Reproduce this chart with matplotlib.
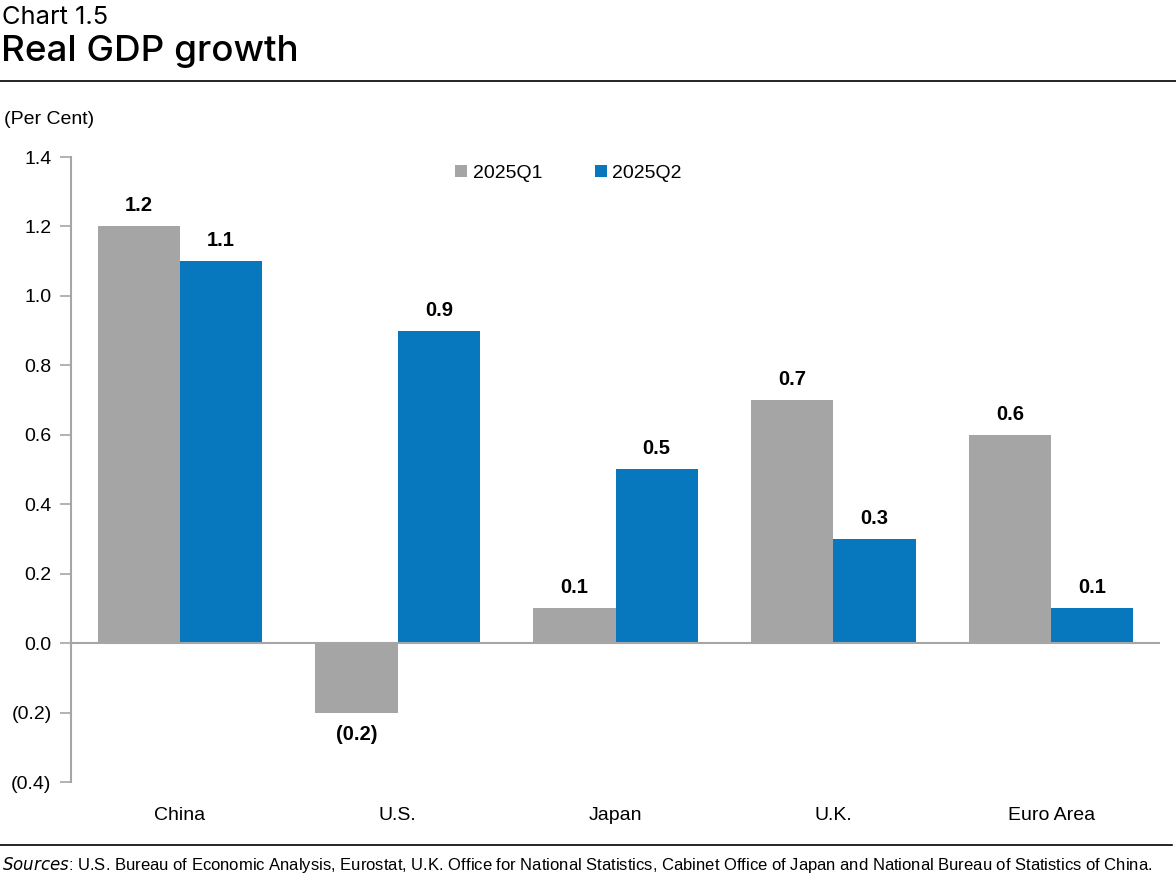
import numpy as np
import matplotlib
matplotlib.use("Agg")
import matplotlib.pyplot as plt
from matplotlib.lines import Line2D

# Datos del gráfico
categories = ["China", "U.S.", "Japan", "U.K.", "Euro Area"]
q1_values = [1.2, -0.2, 0.1, 0.7, 0.6]
q2_values = [1.1, 0.9, 0.5, 0.3, 0.1]
series_names = ["2025Q1", "2025Q2"]
y_ticks = [-0.4, -0.2, 0.0, 0.2, 0.4, 0.6, 0.8, 1.0, 1.2, 1.4]

GREY = "#a5a5a5"
BLUE = "#0878be"
AXIS_GREY = "#a6a6a6"

plt.rcParams["font.family"] = ["Liberation Sans", "DejaVu Sans"]


def fmt(v):
    # negativos entre paréntesis
    return f"({abs(v):.1f})" if v < 0 else f"{v:.1f}"


fig = plt.figure(figsize=(11.76, 8.88), dpi=100)
ax = fig.add_axes([71 / 1176, 1 - 782 / 888, (1160 - 71) / 1176, (782 - 157) / 888])

x = np.arange(len(categories))
w = 0.378
bars1 = ax.bar(x - w / 2, q1_values, w, color=GREY, label=series_names[0])
bars2 = ax.bar(x + w / 2, q2_values, w, color=BLUE, label=series_names[1])

for bars, vals in [(bars1, q1_values), (bars2, q2_values)]:
    for b, v in zip(bars, vals):
        cx = b.get_x() + b.get_width() / 2
        if v >= 0:
            ax.annotate(fmt(v), (cx, v), xytext=(0, 8), textcoords="offset points",
                        ha="center", va="bottom", fontsize=14.5, fontweight="bold")
        else:
            ax.annotate(fmt(v), (cx, v), xytext=(0, -9), textcoords="offset points",
                        ha="center", va="top", fontsize=14.5, fontweight="bold")

ax.set_xlim(-0.5, len(categories) - 0.5)
ax.set_ylim(-0.4, 1.4)
ax.set_yticks(y_ticks)
ax.set_yticklabels([fmt(t) for t in y_ticks], fontsize=14)
ax.set_xticks(x)
ax.set_xticklabels(categories, fontsize=14)
ax.tick_params(axis="x", length=0, pad=18)
ax.tick_params(axis="y", direction="out", length=8, width=1.2, color=AXIS_GREY, pad=6)

for s in ["top", "right", "bottom"]:
    ax.spines[s].set_visible(False)
ax.spines["left"].set_color(AXIS_GREY)
ax.spines["left"].set_linewidth(1.5)
ax.axhline(0, color=AXIS_GREY, linewidth=1.5, zorder=3)

ax.legend(loc="upper center", bbox_to_anchor=(0.457, 1.009), ncol=2, frameon=False,
          fontsize=14, handlelength=0.6, handleheight=0.6, handletextpad=0.3,
          columnspacing=2.7, borderaxespad=0.3)

# Títulos
fig.text(2 / 1176, 1 - 18 / 888, "Chart 1.5", fontsize=18.3, family=["Inter", "DejaVu Sans"],
         va="center", ha="left")
fig.text(1 / 1176, 1 - 51 / 888, "Real GDP growth", fontsize=26.5, family=["Inter", "DejaVu Sans"],
         va="center", ha="left", fontweight="medium")
fig.text(4 / 1176, 1 - 120 / 888, "(Per Cent)", fontsize=14, va="center", ha="left")

fig.add_artist(Line2D([0, 1], [1 - 81 / 888] * 2, color="black", linewidth=1.2))
fig.add_artist(Line2D([0, 1172 / 1176], [1 - 845 / 888] * 2, color="black", linewidth=1.2))

fig.text(2 / 1176, 1 - 865 / 888,
         r"$\it{Sources}$" + ": U.S. Bureau of Economic Analysis, Eurostat, U.K. Office for National Statistics, "
         "Cabinet Office of Japan and National Bureau of Statistics of China.",
         fontsize=12, va="center", ha="left")

fig.savefig("out.png", dpi=100)
